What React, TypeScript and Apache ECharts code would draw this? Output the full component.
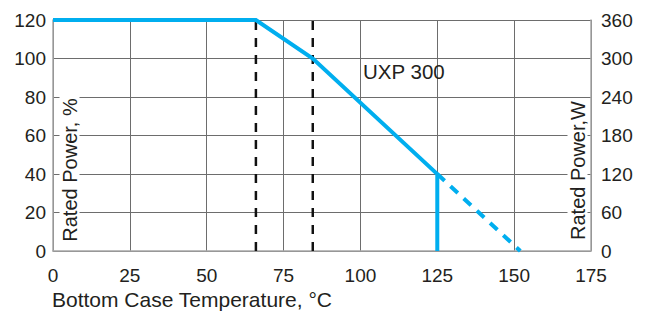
import React, { useEffect, useRef } from "react";
import * as echarts from "echarts";

const xTicks = [0, 25, 50, 75, 100, 125, 150, 175];
const leftTicks = [0, 20, 40, 60, 80, 100, 120];
const rightTicks = [0, 60, 120, 180, 240, 300, 360];
const deratingSolid: [number, number][] = [
  [0, 120],
  [66, 120],
  [84.5, 100],
  [125, 40],
  [125, 0],
];
const deratingDashed: [number, number][] = [
  [125, 40],
  [152, 0],
];
const limitTemps = [66, 84.5];
const seriesLabel = "UXP 300";
const xTitle = "Bottom Case Temperature, °C";
const leftTitle = "Rated Power, %";
const rightTitle = "Rated Power,W";

const FONT = "Liberation Sans, Arial, Helvetica, sans-serif";
const BLUE = "#00AEEF";
const TEXT = "#231f20";

export default function App() {
  const ref = useRef<HTMLDivElement>(null);
  useEffect(() => {
    if (!ref.current) return;
    const chart = echarts.init(ref.current, undefined, { renderer: "svg" });
    const axisLine = { show: true, lineStyle: { color: "#a6a6a6", width: 1.5 } };
    chart.setOption({
      animation: false,
      backgroundColor: "#fff",
      grid: { left: 53, right: 55, top: 20, bottom: 60, containLabel: false },
      xAxis: {
        type: "value",
        min: xTicks[0],
        max: xTicks[xTicks.length - 1],
        interval: 25,
        axisLine,
        axisTick: { show: false },
        axisLabel: { color: TEXT, fontFamily: FONT, fontSize: 19, margin: 15 },
        splitLine: { show: true, lineStyle: { color: "#6d6d6d", width: 1 } },
      },
      yAxis: [
        {
          type: "value",
          min: leftTicks[0],
          max: leftTicks[leftTicks.length - 1],
          interval: 20,
          axisLine,
          axisTick: { show: false },
          axisLabel: { color: TEXT, fontFamily: FONT, fontSize: 19, margin: 7 },
          splitLine: { show: true, lineStyle: { color: "#6d6d6d", width: 1 } },
        },
        {
          type: "value",
          position: "right",
          min: rightTicks[0],
          max: rightTicks[rightTicks.length - 1],
          interval: 60,
          axisLine,
          axisTick: { show: false },
          axisLabel: { color: TEXT, fontFamily: FONT, fontSize: 19, margin: 10 },
          splitLine: { show: false },
        },
      ],
      series: [
        ...limitTemps.map((t) => ({
          type: "line",
          data: [
            [t, leftTicks[0]],
            [t, leftTicks[leftTicks.length - 1]],
          ],
          symbol: "none",
          z: 3,
          lineStyle: { color: "#111", width: 2.5, type: [9, 8] },
        })),
        {
          type: "line",
          data: deratingSolid,
          symbol: "none",
          z: 5,
          lineStyle: { color: BLUE, width: 4, join: "miter" },
        },
        {
          type: "line",
          data: deratingDashed,
          symbol: "none",
          z: 5,
          lineStyle: { color: BLUE, width: 4, type: [10, 8] },
        },
      ],
      graphic: [
        {
          type: "text",
          x: 363,
          y: 71,
          z: 100,
          style: {
            text: seriesLabel,
            fontFamily: FONT,
            fontSize: 20.5,
            fill: TEXT,
            verticalAlign: "middle",
            align: "left",
          },
        },
        {
          type: "text",
          x: 52,
          y: 299.5,
          z: 100,
          style: {
            text: xTitle,
            fontFamily: FONT,
            fontSize: 21,
            fill: TEXT,
            verticalAlign: "middle",
            align: "left",
          },
        },
        {
          type: "text",
          x: 69.5,
          y: 170,
          rotation: Math.PI / 2,
          z: 100,
          style: {
            text: leftTitle,
            fontFamily: FONT,
            fontSize: 20,
            fill: TEXT,
            align: "center",
            verticalAlign: "middle",
            backgroundColor: "#fff",
            padding: [0, 2],
          },
        },
        {
          type: "text",
          x: 577.5,
          y: 170.5,
          rotation: Math.PI / 2,
          z: 100,
          style: {
            text: rightTitle,
            fontFamily: FONT,
            fontSize: 20,
            fill: TEXT,
            align: "center",
            verticalAlign: "middle",
            backgroundColor: "#fff",
            padding: [0, 2],
          },
        },
      ],
    });
    return () => chart.dispose();
  }, []);
  return (
    <div
      ref={ref}
      style={{ position: "fixed", left: 0, top: 0, width: 646, height: 311 }}
    />
  );
}
